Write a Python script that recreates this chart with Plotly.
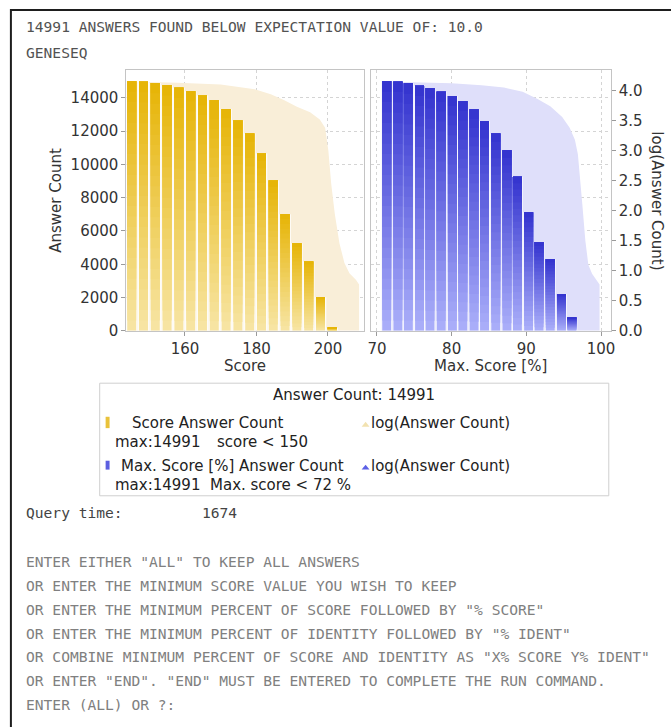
import plotly.graph_objects as go

W, H = 671, 727

# ---------------- data ----------------
score_bins = [145.1, 148.4, 151.7, 155.0, 158.3, 161.6, 164.9, 168.2, 171.5,
              174.8, 178.1, 181.4, 184.7, 188.0, 191.3, 194.6, 197.9, 201.2]
score_counts = [14991, 14960, 14890, 14750, 14600, 14400, 14140, 13860, 13330,
                12630, 11860, 10660, 9030, 7010, 5260, 4170, 2020, 170]

pct_bins = [71.3, 72.8, 74.2, 75.7, 77.1, 78.6, 80.1, 81.5, 83.0,
            84.4, 85.9, 87.4, 88.8, 90.3, 91.7, 93.2, 94.7, 96.1]
pct_counts = [14991, 14970, 14870, 14730, 14570, 14370, 14110, 13790, 13300,
              12600, 11850, 10850, 9260, 7120, 5340, 4300, 2220, 790]

score_log_x = [143.7, 158.0, 170.0, 175.0, 179.5, 184.0, 187.8, 191.3, 195.0,
               197.7, 199.2, 200.1, 200.9, 201.9, 203.2, 204.6, 206.0, 207.8, 208.7]
score_log_y = [4.15, 4.13, 4.10, 4.06, 4.02, 3.94, 3.84, 3.73, 3.64,
               3.52, 3.38, 3.00, 2.45, 1.95, 1.46, 1.13, 0.96, 0.85, 0.77]

pct_log_x = [70.6, 75.0, 80.0, 84.0, 87.0, 89.5, 91.5, 93.2, 94.8, 95.8,
             96.5, 96.9, 97.2, 97.5, 97.9, 98.3, 98.8, 99.3, 99.8]
pct_log_y = [4.15, 4.14, 4.12, 4.09, 4.05, 3.98, 3.86, 3.74, 3.56, 3.38,
             3.18, 2.94, 2.55, 2.10, 1.50, 1.10, 0.95, 0.86, 0.77]

count_ticks = [0, 2000, 4000, 6000, 8000, 10000, 12000, 14000]
score_ticks = [160, 180, 200]
pct_ticks = [70, 80, 90, 100]
log_ticks = [0.0, 0.5, 1.0, 1.5, 2.0, 2.5, 3.0, 3.5, 4.0]

header_lines = ["14991 ANSWERS FOUND BELOW EXPECTATION VALUE OF: 10.0", "GENESEQ"]
prompt_lines = [
    'ENTER EITHER "ALL" TO KEEP ALL ANSWERS',
    'OR ENTER THE MINIMUM SCORE VALUE YOU WISH TO KEEP',
    'OR ENTER THE MINIMUM PERCENT OF SCORE FOLLOWED BY "% SCORE"',
    'OR ENTER THE MINIMUM PERCENT OF IDENTITY FOLLOWED BY "% IDENT"',
    'OR COMBINE MINIMUM PERCENT OF SCORE AND IDENTITY AS "X% SCORE Y% IDENT"',
    'OR ENTER "END". "END" MUST BE ENTERED TO COMPLETE THE RUN COMMAND.',
    'ENTER (ALL) OR ?:',
]

# ---------------- helpers ----------------
def px(x):
    return x / W

def py(y):
    return 1 - y / H

def lerp(c0, c1, t):
    return "rgb(%d,%d,%d)" % tuple(round(a + (b - a) * t) for a, b in zip(c0, c1))

MONO = "DejaVu Sans Mono"
SANS = "DejaVu Sans"

fig = go.Figure()

# areas (log axes, base subplots)
fig.add_trace(go.Scatter(x=score_log_x, y=score_log_y, xaxis="x", yaxis="y",
                         mode="lines", line=dict(width=0, color="#F8EDD6"),
                         fill="tozeroy", fillcolor="#F9EED8",
                         showlegend=False, hoverinfo="skip"))
fig.add_trace(go.Scatter(x=pct_log_x, y=pct_log_y, xaxis="x2", yaxis="y2",
                         mode="lines", line=dict(width=0, color="#DEDEFA"),
                         fill="tozeroy", fillcolor="#DFDFFA",
                         showlegend=False, hoverinfo="skip"))

# bars (count axes, overlay subplots) with vertical gradient:
# each layer k starts higher up and reaches the bar top, so layers overlap without seams
K = 24
panels = [
    (score_bins, score_counts, "x", "y3", 3.3, 0.76, (247, 229, 165), (230, 180, 5)),
    (pct_bins, pct_counts, "x2", "y4", 1.46, 0.82, (172, 176, 250), (50, 50, 206)),
]
for bins, counts, xa, ya, pitch, frac, c_bot, c_top in panels:
    fig.add_trace(go.Bar(x=bins, y=counts, xaxis=xa, yaxis=ya, width=pitch * 0.99,
                         marker=dict(color="rgba(255,255,255,0.8)", line=dict(width=0)),
                         showlegend=False, hoverinfo="skip"))
    for k in range(K):
        fig.add_trace(go.Bar(
            x=bins, y=[v * (1 - k / K) for v in counts], base=[v * k / K for v in counts],
            xaxis=xa, yaxis=ya, width=pitch * frac,
            marker=dict(color=lerp(c_bot, c_top, (k + 0.5) / K), line=dict(width=0)),
            showlegend=False, hoverinfo="skip"))

dom_y = [py(335), py(71)]
tickfont = dict(family=SANS, size=15, color="#333333")
grid = dict(showgrid=True, gridcolor="#d4d4d4", griddash="dot", gridwidth=1)
frame = dict(showline=True, linecolor="#c4c4c4", linewidth=1, mirror=True)
ticks = dict(ticks="outside", ticklen=4, tickcolor="#9a9a9a", tickwidth=1)

fig.update_layout(
    width=W, height=H, autosize=False,
    margin=dict(l=0, r=0, t=0, b=0),
    paper_bgcolor="white", plot_bgcolor="rgba(0,0,0,0)",
    barmode="overlay", showlegend=False,
    xaxis=dict(domain=[px(124), px(365)], range=[143.6, 210.1], anchor="y",
               tickvals=score_ticks, tickfont=tickfont, zeroline=False,
               **grid, **frame, **ticks),
    yaxis=dict(domain=dom_y, range=[0, 4.34], anchor="x", visible=False,
               showgrid=False, zeroline=False),
    yaxis3=dict(overlaying="y", anchor="x", side="left", range=[0, 15664],
                tickvals=count_ticks, tickformat="d", tickfont=tickfont, zeroline=False,
                **grid, **frame, **ticks),
    xaxis2=dict(domain=[px(372), px(615)], range=[69.2, 101.3], anchor="y2",
                tickvals=pct_ticks, tickfont=tickfont, zeroline=False,
                **grid, **frame, **ticks),
    yaxis2=dict(domain=dom_y, range=[0, 4.34], anchor="x2", side="right",
                tickvals=log_ticks, tickformat=".1f", tickfont=tickfont,
                showgrid=False, zeroline=False, **ticks),
    yaxis4=dict(overlaying="y2", anchor="x2", side="left", range=[0, 15664],
                tickvals=count_ticks, showticklabels=False, ticks="",
                zeroline=False, **grid, **frame),
)

ann = []

def text(x, y, s, size=15, family=SANS, color="#333333", xanchor="left", angle=0):
    ann.append(dict(x=px(x), y=py(y), xref="paper", yref="paper", text=s,
                    showarrow=False, xanchor=xanchor, yanchor="middle",
                    textangle=angle, font=dict(family=family, size=size, color=color)))

# header / footer console text
text(20.5, 27, header_lines[0], size=14.6, family=MONO, color="#525252")
text(20.5, 53, header_lines[1], size=14.6, family=MONO, color="#525252")
text(20.5, 519, "Query time:", size=14.6, family=MONO, color="#444444")
text(199, 519, "1674", size=14.6, family=MONO, color="#444444")
for i, line in enumerate(prompt_lines):
    text(20.5, 569 + 24 * i, line, size=14.6, family=MONO, color="#808080")

# axis titles
text(244.5, 371, "Score", xanchor="center")
text(493, 371, "Max. Score [%]", xanchor="center")
text(53, 203, "Answer Count", xanchor="center", angle=-90)
text(661, 203, "log(Answer Count)", xanchor="center", angle=90)

# legend texts
text(355, 400, "Answer Count: 14991", xanchor="center", color="#222222")
text(128, 428, "Score Answer Count", color="#222222")
text(370, 428, "log(Answer Count)", color="#222222")
text(110, 448, "max:14991", color="#222222")
text(214, 448, "score < 150", color="#222222")
text(117, 471.5, "Max. Score [%] Answer Count", color="#222222")
text(370, 471.5, "log(Answer Count)", color="#222222")
text(110, 491, "max:14991", color="#222222")
text(207, 491, "Max. score < 72 %", color="#222222")

fig.update_layout(annotations=ann)

shapes = []
# outer frame (top + left edges visible)
shapes.append(dict(type="rect", xref="paper", yref="paper",
                   x0=px(7), y0=py(10), x1=1.3, y1=-0.3,
                   line=dict(color="#1e1e1e", width=2)))
# legend box
shapes.append(dict(type="rect", xref="paper", yref="paper",
                   x0=px(97), y0=py(388), x1=px(613), y1=py(502),
                   line=dict(color="#cfcfcf", width=1)))
# legend bar icons
shapes.append(dict(type="rect", xref="paper", yref="paper",
                   x0=px(103), y0=py(422), x1=px(107), y1=py(433.5),
                   line=dict(width=0), fillcolor="#E9C23A"))
shapes.append(dict(type="rect", xref="paper", yref="paper",
                   x0=px(103), y0=py(466.5), x1=px(107), y1=py(475.5),
                   line=dict(width=0), fillcolor="#5C5FE0"))

def tri(xc, yb, col):
    path = "M %f,%f L %f,%f L %f,%f Z" % (px(xc - 4), py(yb), px(xc + 4), py(yb),
                                          px(xc), py(yb - 5))
    shapes.append(dict(type="path", xref="paper", yref="paper", path=path,
                       line=dict(width=0), fillcolor=col))

tri(366.5, 432, "#F2E2B0")
tri(366.5, 475.5, "#5C60E6")

fig.update_layout(shapes=shapes)

fig.write_html("out.html",
               config={"displayModeBar": False},
               post_script="document.body.style.margin='0px';document.body.style.overflow='hidden';")
